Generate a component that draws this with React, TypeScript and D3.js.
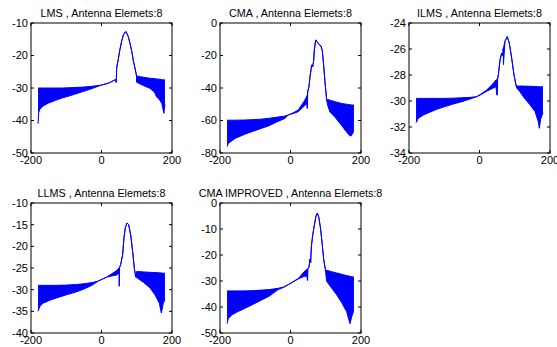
import React from "react";
import * as d3 from "d3";

// ---------- data ----------
const xTicks = [-200, 0, 200];

const lmsTitle = "LMS , Antenna Elemets:8";
const lmsYTicks = [-50, -40, -30, -20, -10];
const lmsAngle = [-180, -178, -175, -165, -150, -130, -110, -90, -70, -50, -30, -15, 0, 20, 40, 41, 42, 43, 48, 52, 57, 62, 67, 70, 76, 81, 86, 90, 95, 99, 100, 101, 110, 120, 137, 150, 156, 165, 171, 177, 180];
const lmsUpper = [-30, -30, -30, -30, -30, -30, -30, -29.9, -29.8, -29.7, -29.5, -29.3, -29.1, -28.5, -27.4, -27.3, -27.3, -23.9, -20.9, -18.3, -15.7, -13.7, -12.8, -12.7, -14.2, -16.3, -18.8, -21.4, -23.9, -26, -28.2, -26.3, -26.5, -26.7, -27, -27.1, -27.2, -27.3, -27.4, -27.5, -27.5];
const lmsLower = [-41, -37.5, -36.5, -35.5, -34.6, -33.8, -33, -32.4, -31.7, -31, -30.3, -29.7, -29.1, -28.5, -27.4, -28.3, -28.3, -23.9, -20.9, -18.3, -15.7, -13.7, -12.8, -12.7, -14.2, -16.3, -18.8, -21.4, -23.9, -26, -28.2, -28.3, -28.8, -29.3, -30.1, -31.2, -32.7, -33.7, -34.7, -37.8, -35];

const cmaTitle = "CMA , Antenna Elemets:8";
const cmaYTicks = [-80, -60, -40, -20, 0];
const cmaAngle = [-180, -176, -157, -130, -110, -85, -63, -40, -16, -6, 10, 22, 41, 46, 47, 48, 49, 52.5, 55.3, 58.2, 60, 63, 65.7, 67.6, 71.4, 75.2, 79, 86.5, 90.3, 94.1, 97.9, 102.6, 105.5, 112, 126, 145, 159, 169, 173.5, 178, 180];
const cmaUpper = [-59.8, -59.8, -59.8, -59.7, -59.5, -59.2, -58.7, -58, -57.3, -56.6, -55, -53.5, -47.4, -45, -44.5, -44.5, -42, -39.2, -33, -28.9, -25.8, -27, -23.2, -16.6, -10.5, -11.3, -12.8, -14.2, -17.2, -26.1, -36.4, -47.4, -47, -47.5, -48.4, -49.5, -50, -50.3, -50.4, -50.5, -50.5];
const cmaLower = [-76, -74, -71, -68.5, -66.9, -65, -63.4, -61, -58.7, -56.6, -55.5, -54.6, -50.7, -49.5, -52.5, -52.5, -42, -39.2, -33, -28.9, -25.8, -27, -23.2, -16.6, -10.5, -11.3, -12.8, -14.2, -17.2, -26.1, -36.4, -47.4, -50.7, -54.8, -57.9, -63, -67.1, -69.5, -69.1, -67.1, -67];

const ilmsTitle = "ILMS , Antenna Elemets:8";
const ilmsYTicks = [-34, -32, -30, -28, -26, -24];
const ilmsAngle = [-180, -173.5, -159.4, -140, -121.5, -100, -74.3, -50, -27, -8, 5, 20.4, 39.3, 46.8, 49, 50.6, 51.5, 53.4, 58.2, 62.9, 65.7, 67.5, 68, 72.3, 78.9, 84.6, 91.3, 97.9, 103.5, 105.5, 115, 124.3, 143.3, 157.4, 166.8, 169.7, 173.5, 180];
const ilmsUpper = [-29.8, -29.8, -29.8, -29.8, -29.8, -29.8, -29.78, -29.75, -29.72, -29.67, -29.45, -29.15, -28.64, -28.38, -28.35, -28.35, -28.3, -28, -26.85, -26.33, -26.5, -25.95, -25.9, -25.4, -25.05, -25.56, -26.7, -28, -28.77, -28.85, -28.85, -28.85, -28.87, -28.88, -28.9, -28.9, -28.9, -28.9];
const ilmsLower = [-31.67, -31.33, -31.08, -30.85, -30.64, -30.45, -30.23, -30.05, -29.85, -29.67, -29.5, -29.25, -29, -28.9, -29.54, -29.54, -28.3, -28, -26.85, -26.33, -26.5, -25.95, -27.2, -25.4, -25.05, -25.56, -26.7, -28, -28.77, -29, -29.3, -29.67, -30.3, -30.8, -31.6, -32.1, -31.4, -30.9];

const llmsTitle = "LLMS , Antenna Elemets:8";
const llmsYTicks = [-40, -35, -30, -25, -20, -15, -10];
const llmsAngle = [-180, -174.5, -165, -145, -127.2, -100, -70.4, -45, -23.2, -9, 14.7, 43, 49.6, 50, 50.6, 51.2, 54.4, 60, 63.8, 67.6, 72.3, 77, 82.7, 88.4, 93.1, 97, 99.8, 118.7, 137.6, 151.8, 164, 169.7, 175.4, 180];
const llmsUpper = [-29, -29, -29, -29, -29, -28.95, -28.8, -28.6, -28.3, -28, -27.1, -25.6, -25, -25, -25, -24.9, -24.2, -21.9, -18, -15.7, -14.6, -15, -17.3, -21.2, -25, -27.1, -25.8, -25.9, -26, -26.05, -26.1, -26.15, -26.2, -26.2];
const llmsLower = [-35, -33.8, -33.1, -32.4, -31.9, -31.2, -30.5, -29.7, -28.8, -28, -27.1, -26.6, -26.2, -29.2, -29.2, -24.9, -24.2, -21.9, -18, -15.7, -14.6, -15, -17.3, -21.2, -25, -27.1, -27.2, -28.3, -29.6, -31.2, -33.1, -35.4, -33.1, -32.3];

const cmaiTitle = "CMA IMPROVED , Antenna Elemets:8";
const cmaiYTicks = [-50, -40, -30, -20, -10, 0];
const cmaiAngle = [-180, -176.3, -167, -150, -129, -105, -82, -60, -35, -20, -6, 22.2, 41.1, 46.8, 48, 48.7, 49.5, 52.5, 55.3, 57.2, 59, 62.9, 67.6, 72.3, 76, 79.9, 84.6, 89.4, 94.1, 98.8, 102.6, 116.7, 130.9, 145, 159.3, 168.8, 173.5, 178.3, 180];
const cmaiUpper = [-33.8, -33.8, -33.8, -33.8, -33.8, -33.7, -33.5, -33.3, -32.8, -32.3, -31.4, -29, -26.1, -25.5, -25.4, -25.4, -25.2, -24.8, -21.6, -22.9, -17, -12.4, -8.5, -5, -3.9, -5.2, -9.2, -15, -21.6, -25.5, -25.9, -26.4, -26.9, -27.4, -27.9, -28.2, -28.3, -28.5, -28.5];
const cmaiLower = [-46.4, -44.4, -43.1, -41.8, -40.5, -38.9, -37.3, -35.8, -33.3, -32.5, -31.4, -29.2, -28.1, -28.3, -29.8, -29.8, -25.2, -24.8, -21.6, -22.9, -17, -12.4, -8.5, -5, -3.9, -5.2, -9.2, -15, -21.6, -25.5, -30.1, -32.7, -35.3, -38.3, -41.8, -46.4, -43.8, -41.8, -41.8];

// ---------- layout ----------
const W = 557;
const H = 347;
const PW = 141;
const PH = 130;
const FONT = "'Liberation Sans', Arial, Helvetica, sans-serif";
const BLUE = "#0000ff";

type Panel = {
  title: string;
  yTicks: number[];
  angle: number[];
  upper: number[];
  lower: number[];
  left: number;
  top: number;
};

const panels: Panel[] = [
  { title: lmsTitle, yTicks: lmsYTicks, angle: lmsAngle, upper: lmsUpper, lower: lmsLower, left: 31, top: 23 },
  { title: cmaTitle, yTicks: cmaYTicks, angle: cmaAngle, upper: cmaUpper, lower: cmaLower, left: 220, top: 23 },
  { title: ilmsTitle, yTicks: ilmsYTicks, angle: ilmsAngle, upper: ilmsUpper, lower: ilmsLower, left: 409, top: 23 },
  { title: llmsTitle, yTicks: llmsYTicks, angle: llmsAngle, upper: llmsUpper, lower: llmsLower, left: 31, top: 203 },
  { title: cmaiTitle, yTicks: cmaiYTicks, angle: cmaiAngle, upper: cmaiUpper, lower: cmaiLower, left: 220, top: 203 },
];

function PanelView({ p }: { p: Panel }) {
  const x = d3.scaleLinear().domain([-200, 200]).range([0, PW]);
  const yDom = d3.extent(p.yTicks) as [number, number];
  const y = d3.scaleLinear().domain(yDom).range([PH, 0]);
  const idx = p.angle.map((_, i) => i);
  const area = d3
    .area<number>()
    .x((i) => x(p.angle[i]))
    .y0((i) => y(p.lower[i]))
    .y1((i) => y(p.upper[i]));
  const lineU = d3
    .line<number>()
    .x((i) => x(p.angle[i]))
    .y((i) => y(p.upper[i]));
  const lineL = d3
    .line<number>()
    .x((i) => x(p.angle[i]))
    .y((i) => y(p.lower[i]));
  const tl = 3;
  return (
    <g transform={`translate(${p.left},${p.top})`}>
      <path d={area(idx) || ""} fill={BLUE} stroke="none" />
      <path d={lineU(idx) || ""} fill="none" stroke={BLUE} strokeWidth={1} />
      <path d={lineL(idx) || ""} fill="none" stroke={BLUE} strokeWidth={1} />
      <rect x={0} y={0} width={PW} height={PH} fill="none" stroke="#000" strokeWidth={1} />
      {p.yTicks.map((t) => (
        <g key={"y" + t}>
          <line x1={0} x2={tl} y1={y(t)} y2={y(t)} stroke="#000" />
          <line x1={PW} x2={PW - tl} y1={y(t)} y2={y(t)} stroke="#000" />
          <text x={-3} y={y(t)} dy="0.35em" textAnchor="end" fontSize={11} fontFamily={FONT} fill="#000">
            {t}
          </text>
        </g>
      ))}
      {xTicks.map((t) => (
        <g key={"x" + t}>
          <line x1={x(t)} x2={x(t)} y1={PH} y2={PH - tl} stroke="#000" />
          <line x1={x(t)} x2={x(t)} y1={0} y2={tl} stroke="#000" />
          <text x={x(t)} y={PH + 11} textAnchor="middle" fontSize={11} fontFamily={FONT} fill="#000">
            {t}
          </text>
        </g>
      ))}
      <text x={PW / 2} y={-6} textAnchor="middle" fontSize={10.8} fontFamily={FONT} fill="#000">
        {p.title}
      </text>
    </g>
  );
}

export default function App() {
  return (
    <svg
      width={W}
      height={H}
      viewBox={`0 0 ${W} ${H}`}
      style={{ position: "absolute", left: 0, top: 0, background: "#fff" }}
    >
      <rect x={0} y={0} width={W} height={H} fill="#fff" />
      {panels.map((p) => (
        <PanelView key={p.title} p={p} />
      ))}
    </svg>
  );
}
